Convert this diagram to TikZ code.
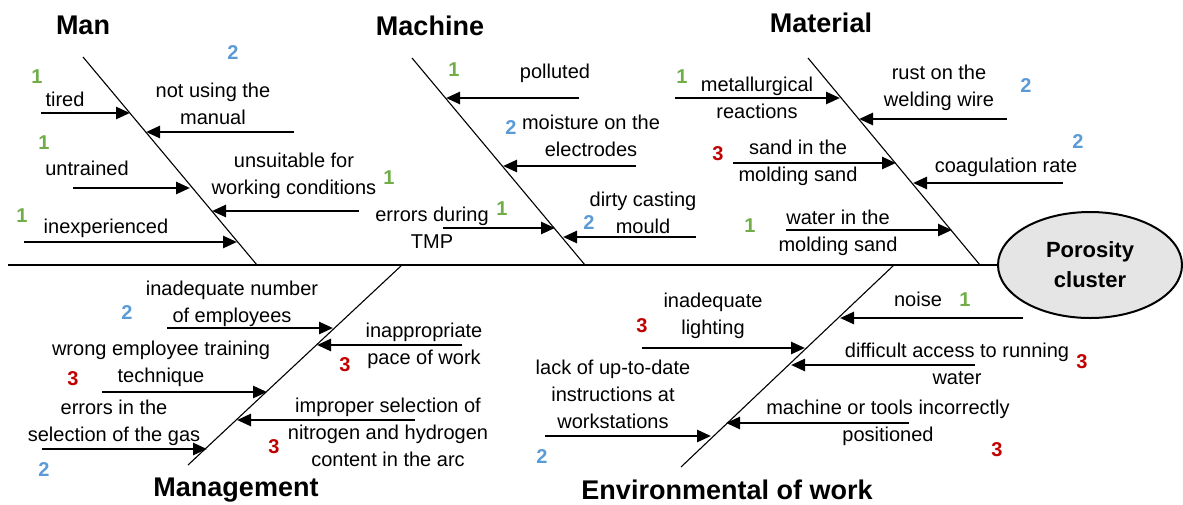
\documentclass[tikz,border=0pt]{standalone}
\usepackage{fontspec}
\setmainfont{Liberation Sans}
\usetikzlibrary{arrows.meta,shapes.geometric}

\definecolor{rankgreen}{HTML}{70AD47}
\definecolor{rankblue}{HTML}{5B9BD5}
\definecolor{rankred}{HTML}{C00000}

\tikzset{
bone/.style={line width=1.1pt},
spine/.style={line width=2.2pt},
causeline/.style={line width=2.6pt,-{Triangle[length=14pt,width=12pt]}},
causefont/.style={font=\fontsize{20}{27}\selectfont,align=center,inner sep=0pt},
rankfont/.style={font=\fontsize{20}{24}\selectfont\bfseries,inner sep=0pt},
titlefont/.style={font=\fontsize{27}{30}\selectfont\bfseries,inner sep=0pt},
}

\newcommand{\causearrow}[4]{%
\coordinate (#4a) at (#1,#3);
\coordinate (#4b) at (#2,#3);
\draw[causeline] (#4a) -- (#4b);
}
\newcommand{\causetext}[4]{%
\node[causefont] (#3) at (#1,#2) {#4};
}
\newcommand{\ranknum}[5][]{%
\node[rankfont,#1] (#4) at (#2,#3) {#5};
}

\begin{document}
\begin{tikzpicture}[x=1pt,y=-1pt]
\useasboundingbox (0,0) rectangle (1183,504);

% head and spine
\node[ellipse,draw,line width=2pt,fill=black!10,minimum width=184pt,minimum height=106pt,
  inner sep=0pt,font=\fontsize{22}{30}\selectfont\bfseries,align=center] (effect) at (1090,265) {Porosity\\cluster};
\coordinate (spinestart) at (8,265);
\draw[spine] (spinestart) -- (effect.west);


\begin{scope}
\node[titlefont] (man) at (83,25) {Man};
\coordinate (manTop) at (83,57);
\coordinate (manFoot) at (257,265);
\draw[bone] (manTop) -- (manFoot);

\causearrow{41}{130}{113}{tired}
\causearrow{294}{146}{132}{manual}
\causearrow{73}{190}{188}{untrained}
\causearrow{359}{212}{211}{unsuitable}
\causearrow{24}{237}{242}{inexp}

\causetext{65}{99}{tiredT}{tired}
\causetext{213}{104}{manualT}{not using the\\manual}
\causetext{87}{168}{untrainedT}{untrained}
\causetext{294}{176}{unsuitableT}{unsuitable for\\working conditions}
\causetext{106}{228}{inexpT}{inexperienced}

\ranknum[rankgreen]{37}{77}{tiredR}{1}
\ranknum[rankblue]{233}{53}{manualR}{2}
\ranknum[rankgreen]{44}{143}{untrainedR}{1}
\ranknum[rankgreen]{389}{178}{unsuitableR}{1}
\ranknum[rankgreen]{22}{216}{inexpR}{1}
\end{scope}


\begin{scope}
\node[titlefont] (machine) at (430,26) {Machine};
\coordinate (machineTop) at (412,58);
\coordinate (machineFoot) at (585,265);
\draw[bone] (machineTop) -- (machineFoot);

\causearrow{579}{446}{98}{polluted}
\causearrow{636}{503}{166}{moisture}
\causearrow{443}{555}{228}{tmp}
\causearrow{696}{563}{237}{mould}

\causetext{555}{73}{pollutedT}{polluted}
\causetext{591}{136}{moistureT}{moisture on the\\electrodes}
\causetext{432}{228}{tmpT}{errors during\\TMP}
\causetext{643}{213}{mouldT}{dirty casting\\mould}

\ranknum[rankgreen]{454}{70}{pollutedR}{1}
\ranknum[rankblue]{511}{128}{moistureR}{2}
\ranknum[rankgreen]{502}{209}{tmpR}{1}
\ranknum[rankblue]{589}{223}{mouldR}{2}
\end{scope}


\begin{scope}
\node[titlefont] (material) at (821,23) {Material};
\coordinate (materialTop) at (808,58);
\coordinate (materialFoot) at (980,265);
\draw[bone] (materialTop) -- (materialFoot);

\causearrow{675}{840}{98}{metall}
\causearrow{1007}{859}{119}{rust}
\causearrow{733}{896}{163}{sand}
\causearrow{1063}{913}{183}{coag}
\causearrow{786}{952}{230}{water}

\causetext{757}{98}{metallT}{metallurgical\\reactions}
\causetext{939}{88}{rustT}{rust on the\\welding wire}
\causetext{798}{163}{sandT}{sand in the\\molding sand}
\causetext{1006}{167}{coagT}{coagulation rate}
\causetext{838}{233}{waterT}{water in the\\molding sand}

\ranknum[rankgreen]{682}{77}{metallR}{1}
\ranknum[rankblue]{1026}{86}{rustR}{2}
\ranknum[rankred]{718}{154}{sandR}{3}
\ranknum[rankblue]{1078}{142}{coagR}{2}
\ranknum[rankgreen]{750}{226}{waterR}{1}
\end{scope}


\begin{scope}
\node[titlefont] (management) at (236,490) {Management};
\coordinate (managementTop) at (402,265);
\coordinate (managementFoot) at (188,465);
\draw[bone] (managementTop) -- (managementFoot);

\causearrow{167}{333}{328}{employees}
\causearrow{462}{317}{345}{pace}
\causearrow{102}{267}{392}{technique}
\causearrow{415}{237}{420}{arc}
\causearrow{42}{207}{449}{gas}

\causetext{232}{304}{employeesT}{inadequate number\\of employees}
\causetext{424}{346}{paceT}{inappropriate\\pace of work}
\causetext{161}{364}{techniqueT}{wrong employee training\\technique}
\causetext{388}{432}{arcT}{improper selection of\\nitrogen and hydrogen\\content in the arc}
\causetext{114}{423}{gasT}{errors in the\\selection of the gas}

\ranknum[rankblue]{127}{313}{employeesR}{2}
\ranknum[rankred]{345}{365}{paceR}{3}
\ranknum[rankred]{73}{379}{techniqueR}{3}
\ranknum[rankred]{274}{447}{arcR}{3}
\ranknum[rankblue]{44}{470}{gasR}{2}
\end{scope}


\begin{scope}
\node[titlefont] (environment) at (727,490) {Environmental of work};
\coordinate (environmentTop) at (894,265);
\coordinate (environmentFoot) at (681,467);
\draw[bone] (environmentTop) -- (environmentFoot);

\causearrow{1023}{840}{318}{noise}
\causearrow{642}{805}{348}{lighting}
\causearrow{975}{791}{365}{access}
\causearrow{545}{711}{436}{instr}
\causearrow{909}{726}{423}{tools}

\causetext{918}{299}{noiseT}{noise}
\causetext{713}{316}{lightingT}{inadequate\\lighting}
\causetext{957}{364}{accessT}{difficult access to running\\water}
\causetext{613}{394}{instrT}{lack of up-to-date\\instructions at\\workstations}
\causetext{888}{423}{toolsT}{machine or tools incorrectly\\positioned}

\ranknum[rankgreen]{965}{300}{noiseR}{1}
\ranknum[rankred]{642}{326}{lightingR}{3}
\ranknum[rankred]{1082}{362}{accessR}{3}
\ranknum[rankblue]{542}{457}{instrR}{2}
\ranknum[rankred]{997}{450}{toolsR}{3}
\end{scope}

\end{tikzpicture}
\end{document}
